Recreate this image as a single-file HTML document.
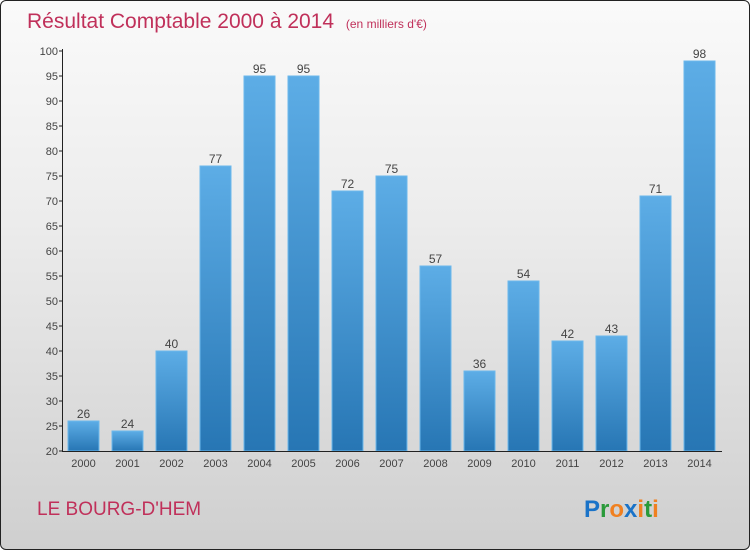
<!DOCTYPE html>
<html><head><meta charset="utf-8"><style>
body{margin:0;}
#wrap{position:relative;width:748px;height:548px;border:1px solid #222;border-radius:6px;overflow:hidden;background:linear-gradient(#fafafa,#ececec 40%,#cfcfcf);font-family:"Liberation Sans",sans-serif;}
svg{position:absolute;left:0;top:0;}
</style></head><body>
<div id="wrap">
<svg id="c" width="750" height="550">
<defs><linearGradient id="bg" x1="0" y1="0" x2="0" y2="1"><stop offset="0" stop-color="#5dade6"/><stop offset="1" stop-color="#2776b4"/></linearGradient></defs>
<text x="26" y="27" font-size="21" fill="#c0305a">Résultat Comptable 2000 à 2014 <tspan font-size="12" dx="6">(en milliers d'€)</tspan></text>
<text x="36" y="514" font-size="19" fill="#c0305a">LE BOURG-D'HEM</text>
<text x="583" y="516" font-size="24" font-weight="bold"><tspan fill="#1a73c8">P</tspan><tspan fill="#2a9a3a">r</tspan><tspan fill="#f08020">o</tspan><tspan fill="#1a73c8">x</tspan><tspan fill="#f08020">i</tspan><tspan fill="#2a9a3a">t</tspan><tspan fill="#f08020">i</tspan></text>
</svg>
</div>
<script>
const categories=["2000","2001","2002","2003","2004","2005","2006","2007","2008","2009","2010","2011","2012","2013","2014"];
const values=[26,24,40,77,95,95,72,75,57,36,54,42,43,71,98];
const yTicks=[20,25,30,35,40,45,50,55,60,65,70,75,80,85,90,95,100];
const svg=document.getElementById('c');const NS="http://www.w3.org/2000/svg";
const y=v=>450-(v-20)*5;const x=i=>82.5+i*44;
function mk(t,a){const e=document.createElementNS(NS,t);for(const k in a)e.setAttribute(k,a[k]);svg.appendChild(e);return e;}
values.forEach((v,i)=>{
const r=mk('rect',{x:x(i)-15.5,y:y(v),width:31,height:450-y(v),fill:'url(#bg)',stroke:'#6bb8ec','stroke-width':1});


const t=mk('text',{x:x(i),y:y(v)-3,'text-anchor':'middle','font-size':12,fill:'#444'});t.textContent=v;


const c=mk('text',{x:x(i),y:466,'text-anchor':'middle','font-size':11,fill:'#444'});c.textContent=categories[i];


});
yTicks.forEach(v=>{
const l=mk('line',{x1:58,x2:62,y1:y(v),y2:y(v),stroke:'#222'});


const t=mk('text',{x:57,y:y(v)+4,'text-anchor':'end','font-size':11,fill:'#444'});t.textContent=v;


});
const ya=mk('line',{x1:61.5,x2:61.5,y1:48,y2:450,stroke:'#222'});


const xa=mk('line',{x1:61,x2:721,y1:450.5,y2:450.5,stroke:'#222'});


</script>
</body></html>
